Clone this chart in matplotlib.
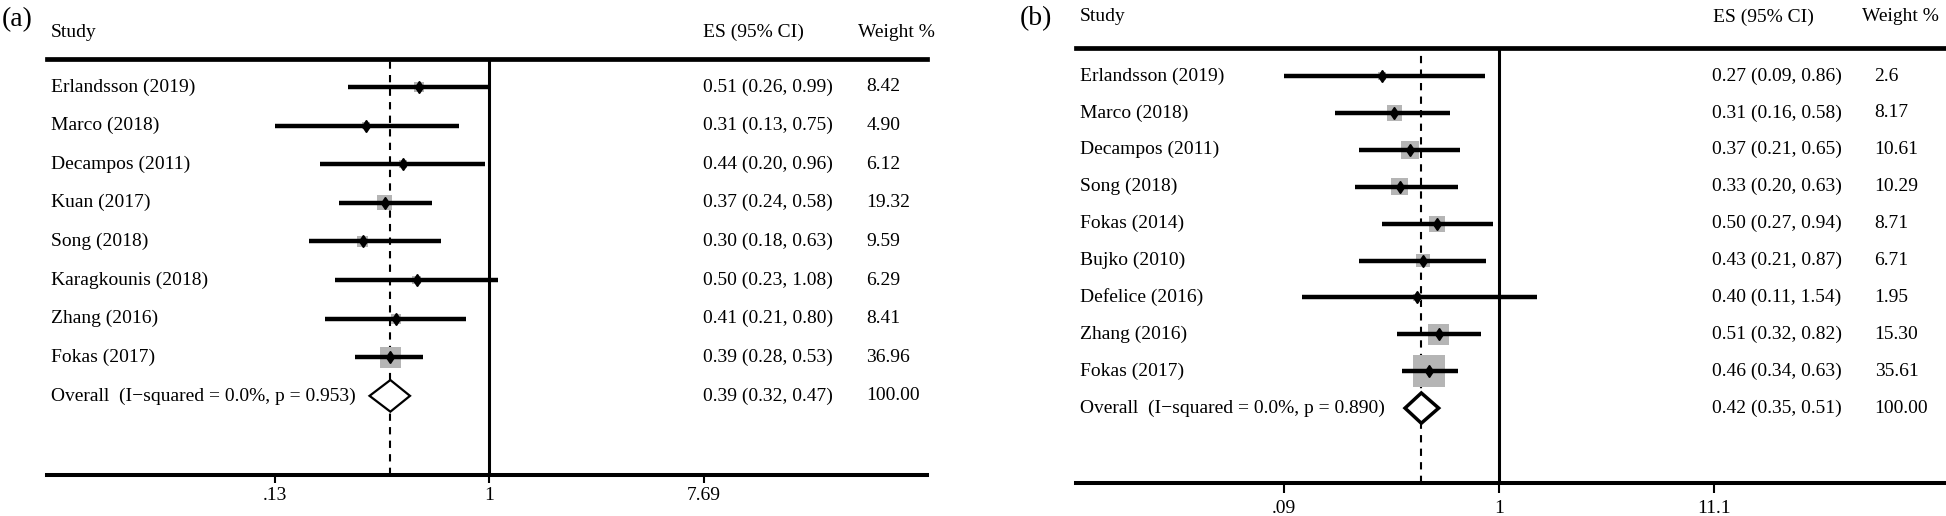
import matplotlib
matplotlib.use("Agg")
import matplotlib.pyplot as plt
import matplotlib.transforms as mtransforms

plt.rcParams["font.family"] = ["Liberation Serif", "DejaVu Serif"]

# panel (a)
studies_a = ["Erlandsson (2019)", "Marco (2018)", "Decampos (2011)", "Kuan (2017)", "Song (2018)",
             "Karagkounis (2018)", "Zhang (2016)", "Fokas (2017)"]
es_a = [0.51, 0.31, 0.44, 0.37, 0.30, 0.50, 0.41, 0.39]
lo_a = [0.26, 0.13, 0.20, 0.24, 0.18, 0.23, 0.21, 0.28]
hi_a = [0.99, 0.75, 0.96, 0.58, 0.63, 1.08, 0.80, 0.53]
weights_a = ["8.42", "4.90", "6.12", "19.32", "9.59", "6.29", "8.41", "36.96"]
overall_a = (0.39, 0.32, 0.47)
overall_label_a = "Overall  (I\u2212squared = 0.0%, p = 0.953)"
ticks_a = [0.13, 1, 7.69]
ticklabels_a = [".13", "1", "7.69"]

# panel (b)
studies_b = ["Erlandsson (2019)", "Marco (2018)", "Decampos (2011)", "Song (2018)", "Fokas (2014)",
             "Bujko (2010)", "Defelice (2016)", "Zhang (2016)", "Fokas (2017)"]
es_b = [0.27, 0.31, 0.37, 0.33, 0.50, 0.43, 0.40, 0.51, 0.46]
lo_b = [0.09, 0.16, 0.21, 0.20, 0.27, 0.21, 0.11, 0.32, 0.34]
hi_b = [0.86, 0.58, 0.65, 0.63, 0.94, 0.87, 1.54, 0.82, 0.63]
weights_b = ["2.6", "8.17", "10.61", "10.29", "8.71", "6.71", "1.95", "15.30", "35.61"]
overall_b = (0.42, 0.35, 0.51)
overall_label_b = "Overall  (I\u2212squared = 0.0%, p = 0.890)"
ticks_b = [0.09, 1, 11.1]
ticklabels_b = [".09", "1", "11.1"]

FS = 14
GRAY = "#b5b5b5"


def draw_panel(ax, studies, es, lo, hi, weights, overall, overall_label, ticks, ticklabels,
               xlim, ylim, sq_scale, cols, header_y, diamond_lw, tick_len, tick_pad):
    n = len(studies)
    rows = list(range(n))
    ax.set_xscale("log")
    ax.set_xlim(*xlim)
    ax.set_ylim(*ylim)

    ax.axvline(1, color="black", lw=2.2, zorder=1)
    ax.axvline(overall[0], color="black", lw=1.5, dashes=(3.5, 3), zorder=1)

    w = [float(v) for v in weights]
    sizes = [(sq_scale * v ** 0.5 * 0.72) ** 2 for v in w]
    ax.scatter(es, rows, s=sizes, marker="s", color=GRAY, lw=0, zorder=2)
    ax.hlines(rows, lo, hi, color="black", lw=3.2, zorder=3)
    ax.plot(es, rows, ls="none", marker="d", ms=6, color="black", zorder=4)

    # overall diamond
    oy = n
    h = 0.41
    ax.fill([overall[1], overall[0], overall[2], overall[0]], [oy, oy - h, oy, oy + h],
            facecolor="white", edgecolor="black", lw=diamond_lw, joinstyle="miter", zorder=4)

    trans = mtransforms.blended_transform_factory(ax.transAxes, ax.transData)
    x_study, x_es, x_w, x_es_h, x_w_h = cols
    labels = studies + [overall_label]
    es_txt = [f"{e:.2f} ({l:.2f}, {u:.2f})" for e, l, u in zip(es, lo, hi)]
    es_txt.append(f"{overall[0]:.2f} ({overall[1]:.2f}, {overall[2]:.2f})")
    w_txt = weights + ["100.00"]
    for i, (lab, et, wt) in enumerate(zip(labels, es_txt, w_txt)):
        ax.text(x_study, i, lab, transform=trans, ha="left", va="center", fontsize=FS, clip_on=False)
        ax.text(x_es, i, et, transform=trans, ha="left", va="center", fontsize=FS, clip_on=False)
        ax.text(x_w, i, wt, transform=trans, ha="left", va="center", fontsize=FS, clip_on=False)
    ax.text(x_study, header_y, "Study", transform=trans, ha="left", va="center", fontsize=FS)
    ax.text(x_es_h, header_y, "ES (95% CI)", transform=trans, ha="left", va="center", fontsize=FS)
    ax.text(x_w_h, header_y, "Weight %", transform=trans, ha="left", va="center", fontsize=FS)

    ax.set_xticks(ticks)
    ax.set_xticklabels(ticklabels)
    ax.minorticks_off()
    ax.set_yticks([])
    ax.tick_params(axis="x", direction="out", length=tick_len, width=1.5, pad=tick_pad, labelsize=FS)
    for side in ("left", "right"):
        ax.spines[side].set_visible(False)
    ax.spines["top"].set_linewidth(3.4)
    ax.spines["bottom"].set_linewidth(2.9)
    ax.patch.set_alpha(0)


fig = plt.figure(figsize=(19.46, 5.16), dpi=100)
W, H = 1946, 516

ax_a = fig.add_axes([47 / W, 1 - 475 / H, 880 / W, (475 - 59) / H])
draw_panel(ax_a, studies_a, es_a, lo_a, hi_a, weights_a, overall_a, overall_label_a,
           ticks_a, ticklabels_a, xlim=(0.01492, 64.0), ylim=(10.05, -0.725), sq_scale=3.45,
           cols=(0.0045, 0.745, 0.931, 0.745, 0.9216), header_y=-1.42, diamond_lw=1.6,
           tick_len=6, tick_pad=3)

ax_b = fig.add_axes([1075.5 / W, 1 - 483 / H, 870.5 / W, (483 - 48) / H])
draw_panel(ax_b, studies_b, es_b, lo_b, hi_b, weights_b, overall_b, overall_label_b,
           ticks_b, ticklabels_b, xlim=(0.00874, 149.6), ylim=(11.03, -0.759), sq_scale=5.36,
           cols=(0.005, 0.731, 0.918, 0.732, 0.9035), header_y=-1.6, diamond_lw=2.5,
           tick_len=7, tick_pad=5)

fig.text(2 / W, 1 - 20 / H, "(a)", fontsize=20, ha="left", va="center")
fig.text(1020 / W, 1 - 19 / H, "(b)", fontsize=20, ha="left", va="center")

fig.savefig("out.png", dpi=100)
